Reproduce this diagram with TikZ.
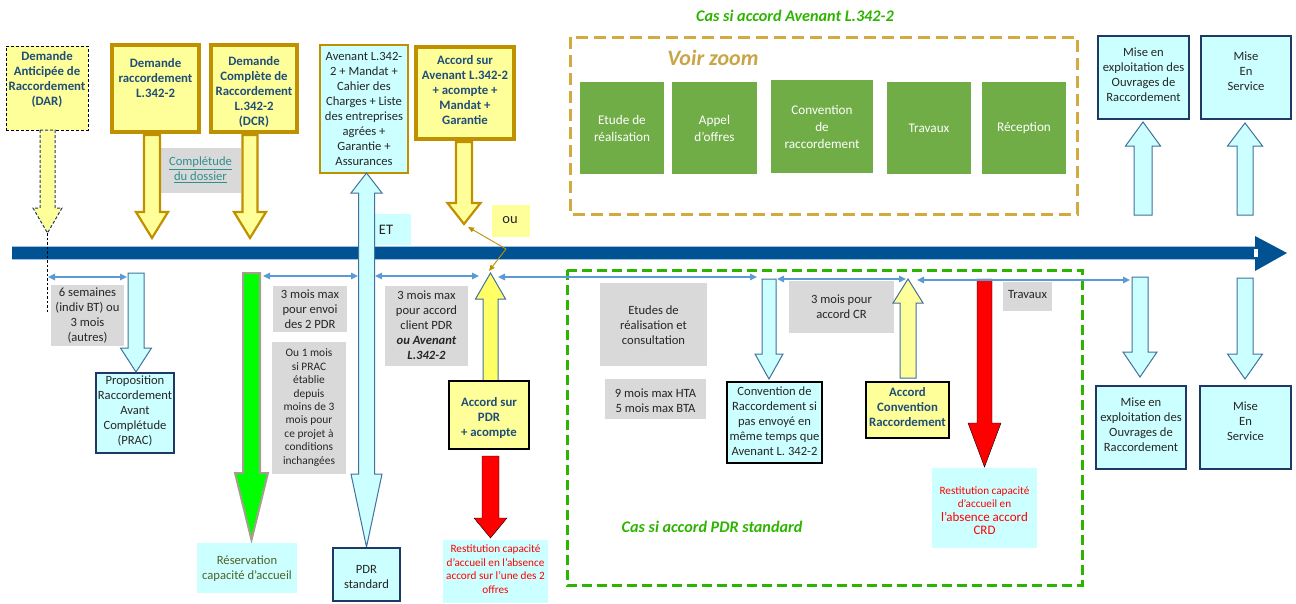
\documentclass[tikz,border=0pt]{standalone}
\usepackage{fontspec}
\setmainfont{Carlito}
\usetikzlibrary{arrows.meta}
\definecolor{tlblue}{HTML}{005293}
\definecolor{tledge}{HTML}{9CC2E5}
\definecolor{boxyellow}{HTML}{FFFF99}
\definecolor{brightyellow}{HTML}{FFFF66}
\definecolor{gold}{HTML}{BF9000}
\definecolor{cyanfill}{HTML}{CCFFFF}
\definecolor{steel}{HTML}{41719C}
\definecolor{navy}{HTML}{1F3864}
\definecolor{grayfill}{HTML}{D9D9D9}
\definecolor{textblue}{HTML}{1F4E79}
\definecolor{greenbox}{HTML}{70AD47}
\definecolor{dgreen}{HTML}{2DB400}
\definecolor{dgold}{HTML}{D1AB3E}
\definecolor{zoomgold}{HTML}{C8A548}
\definecolor{teal}{HTML}{2F8F8F}
\definecolor{lblue}{HTML}{5B9BD5}
\definecolor{greenarrow}{HTML}{00FF00}
\definecolor{garrowedge}{HTML}{A59F8F}
\definecolor{resgreen}{HTML}{4F6228}
\definecolor{graytext}{HTML}{262626}

\tikzset{
  bt/.style={font=\fontsize{12.8}{15}\selectfont\bfseries, text=textblue, align=center, inner sep=0pt},
  nt/.style={font=\fontsize{12.6}{15}\selectfont, text=graytext, align=center, inner sep=0pt},
  st/.style={font=\fontsize{11.4}{13.4}\selectfont, text=graytext, align=center, inner sep=0pt},
  rt/.style={font=\fontsize{11.2}{13.5}\selectfont, text=red, align=center, inner sep=0pt},
  wt/.style={font=\fontsize{13.2}{17}\selectfont, text=white, align=center, inner sep=0pt},
  ybox/.style={fill=boxyellow, draw=gold, line width=3.2pt},
  avbox/.style={fill=cyanfill, draw=gold, line width=2pt},
  navybox/.style={fill=cyanfill, draw=navy, line width=2.2pt},
  blackcyan/.style={fill=cyanfill, draw=black, line width=1.8pt},
  blackyellow/.style={fill=boxyellow, draw=black, line width=1.8pt},
  graybox/.style={fill=grayfill},
  cyanbg/.style={fill=cyanfill},
  greenrect/.style={fill=greenbox},
  darbox/.style={fill=boxyellow, draw=black, line width=1pt, dash pattern=on 3pt off 2pt},
  yarr/.style={fill=boxyellow, draw=gold, line width=2.2pt, line join=miter},
  darr/.style={fill=boxyellow, draw=navy, line width=1pt, dash pattern=on 3pt off 2pt},
  carr/.style={fill=cyanfill, draw=steel, line width=1pt},
  yuarr/.style={fill=brightyellow, draw=steel, line width=1pt},
  yparr/.style={fill=boxyellow, draw=steel, line width=1pt},
  grarr/.style={fill=greenarrow, draw=garrowedge, line width=2pt},
  rarr/.style={fill=red},
  harr/.style={draw=lblue, line width=1.3pt, {Triangle[length=7pt,width=6.5pt]}-{Triangle[length=7pt,width=6.5pt]}},
  ouarr/.style={draw=gold, line width=0.9pt, {Triangle[length=6pt,width=5pt]}-{Triangle[length=6pt,width=5pt]}},
}

% block arrow: style, cx, shaft half width, head half width, y tail, y head base, y tip
\newcommand\barr[7]{\draw[#1] ({#2-#3},#5) -- ({#2+#3},#5) -- ({#2+#3},#6) -- ({#2+#4},#6) -- (#2,#7) -- ({#2-#4},#6) -- ({#2-#3},#6) -- cycle;}

% box: name, style, x1, y1, x2, y2, text style, text centre y, text
\newcommand\bx[9]{%
  \pgfmathsetmacro\bxw{#5-#3}\pgfmathsetmacro\bxh{#6-#4}%
  \pgfmathsetmacro\bxcx{(#3+#5)/2}\pgfmathsetmacro\bxcy{(#4+#6)/2}%
  \node[#2, minimum width=\bxw pt, minimum height=\bxh pt, inner sep=0pt] (#1) at (\bxcx,\bxcy) {};
  \node[#7] (#1-t) at (\bxcx,#8) {#9};
}

\begin{document}
\begin{tikzpicture}[x=1pt,y=-1pt]
\useasboundingbox (0,0) rectangle (1296,603);

% ---- dashed frames and their titles
\draw[dgold, line width=3pt, dash pattern=on 12pt off 6pt] (570,37) rectangle (1077,214);
\draw[dgreen, line width=3pt, dash pattern=on 10pt off 5pt] (567,270) rectangle (1082,585);
\node[font=\fontsize{16.2}{18}\selectfont\bfseries\itshape, text=dgreen] (t-av) at (795,16) {Cas si accord Avenant L.342-2};
\node[font=\fontsize{22}{24}\selectfont\bfseries\itshape, text=zoomgold] (t-zoom) at (713,58) {Voir zoom};
\node[font=\fontsize{16.2}{18}\selectfont\bfseries\itshape, text=dgreen] (t-pdr) at (712,527) {Cas si accord PDR standard};

% ---- green step boxes
\bx{g1}{greenrect}{580}{82}{664}{174}{wt}{128.5}{Etude de\\réalisation}
\bx{g2}{greenrect}{672}{82}{757}{174}{wt}{128.5}{Appel\\d’offres}
\bx{g3}{greenrect}{771}{80}{873}{173}{wt}{127}{Convention\\de\\raccordement}
\bx{g4}{greenrect}{887}{82}{971}{174}{wt}{128}{Travaux}
\bx{g5}{greenrect}{982}{82}{1066}{174}{wt}{128}{Réception}

% ---- timeline
\fill[tlblue] (12,246) -- (1255,246) -- (1255,236) -- (1287,253) -- (1255,271) -- (1255,259) -- (12,259) -- cycle;
\draw[tledge, line width=0.6pt] (12,246) -- (1255,246);
\draw[tledge, line width=0.6pt] (12,259) -- (1255,259);
\fill[white] (1254,249) rectangle (1258,257);

% ---- top left boxes
\bx{dar}{darbox}{6}{46}{88}{130}{bt}{79.5}{Demande\\Anticipée de\\Raccordement\\(DAR)}
\bx{dr}{ybox}{112}{45}{199}{132}{bt}{78}{Demande\\raccordement\\L.342-2}
\bx{dcr}{ybox}{211}{45}{297}{132}{bt}{92}{Demande\\Complète de\\Raccordement\\L.342-2\\(DCR)}
\bx{compl}{graybox}{160}{148}{241}{193}{nt}{170}{\color{teal}\underline{Complétude}\\\color{teal}\underline{du dossier}}
\bx{aven}{avbox}{320}{45}{408}{173}{nt}{109}{Avenant L.342-\\2 + Mandat +\\Cahier des\\Charges + Liste\\des entreprises\\agrées +\\Garantie +\\Assurances}
\bx{accav}{ybox}{416}{47}{514}{139}{bt}{90}{Accord sur\\Avenant L.342-2\\+ acompte +\\Mandat +\\Garantie}
\node[cyanbg, minimum width=38pt, minimum height=31pt, inner sep=0pt] (et) at (392,229.5) {};
\node[font=\fontsize{14.5}{16}\selectfont, text=graytext, inner sep=0pt] (et-t) at (386,230) {ET};
\node[fill=boxyellow, minimum width=38pt, minimum height=32pt, inner sep=0pt] (ou) at (511,221) {};
\node[font=\fontsize{14.5}{16}\selectfont, text=graytext, inner sep=0pt] (ou-t) at (510,220) {ou};

% ---- arrows from the top boxes
\barr{darr}{47.5}{7.5}{14.5}{130}{208}{233}
\draw[black, line width=0.9pt, dash pattern=on 2.5pt off 2pt] (47.5,233) -- (47.5,312);
\barr{yarr}{152}{8}{16}{135}{212}{238}
\barr{yarr}{250}{7.5}{16}{135}{212}{238}
\barr{yarr}{464}{8}{16.5}{142}{203}{224}

% ---- top right boxes and arrows
\bx{meo1}{navybox}{1098}{36}{1189}{119}{nt}{74.5}{Mise en\\exploitation des\\Ouvrages de\\Raccordement}
\bx{mes1}{navybox}{1201}{36}{1291}{119}{nt}{71.5}{Mise\\En\\Service}
\barr{carr}{1143}{9}{17.5}{215}{146}{122}
\barr{carr}{1245}{8}{17.5}{215}{146}{123}

% ---- lower left
\bx{sixs}{graybox}{51}{285}{124}{346}{nt}{315.5}{6 semaines\\(indiv BT) ou\\3 mois\\(autres)}
\bx{prac}{navybox}{96}{373}{174}{453}{nt}{411}{Proposition\\Raccordement\\Avant\\Complétude\\(PRAC)}
\barr{carr}{136}{8}{15.5}{273}{348}{372}
\barr{grarr}{251.5}{8.5}{16.5}{273}{473}{540}
\bx{resa}{cyanbg}{197}{543}{297}{593}{nt}{568.5}{\color{resgreen}Réservation\\\color{resgreen}capacité d’accueil}
\bx{envoi}{graybox}{273}{286}{347}{332}{nt}{309}{3 mois max\\pour envoi\\des 2 PDR}
\bx{prac1}{graybox}{272}{342}{346}{474}{st}{407.5}{Ou 1 mois\\si PRAC\\établie\\depuis\\moins de 3\\mois pour\\ce projet à\\conditions\\inchangées}

% ---- PDR standard and double arrow
\draw[carr] (366.5,173) -- (382,193) -- (374.5,193) -- (374.5,474) -- (382,474) -- (366.5,547) -- (351,474) -- (358.5,474) -- (358.5,193) -- (351,193) -- cycle;
\bx{pdrstd}{navybox}{333}{548}{400}{601}{nt}{577}{PDR\\standard}
\bx{client}{graybox}{385}{286}{468}{366}{nt}{325.5}{3 mois max\\pour accord\\client PDR\\\textbf{\textit{ou Avenant}}\\\textbf{\textit{L.342-2}}}
\barr{yuarr}{490.5}{7.5}{15}{381}{299}{273}
\bx{accpdr}{blackyellow}{449}{381}{529}{449}{bt}{418.5}{Accord sur\\PDR\\+ acompte}
\barr{rarr}{490.5}{8.5}{16.5}{456}{518}{538}
\bx{rest1}{cyanbg}{443}{540}{548}{603}{rt}{569}{Restitution capacité\\d’accueil en l’absence\\accord sur  l’une des 2\\offres}

% ---- inside the PDR standard frame
\bx{etud}{graybox}{600}{283}{707}{366}{nt}{325}{Etudes de\\réalisation et\\consultation}
\bx{neuf}{graybox}{605}{379}{706}{419}{nt}{401}{9 mois max HTA\\5 mois max BTA}
\barr{carr}{769}{7}{14}{279}{354}{379}
\bx{conv}{blackcyan}{727}{382}{822}{463}{nt}{421.5}{Convention de\\Raccordement si\\pas envoyé en\\même temps que\\Avenant L. 342-2}
\bx{trois}{graybox}{789}{281}{894}{333}{nt}{306.5}{3 mois pour\\accord CR}
\barr{yparr}{908}{8}{15}{378}{303}{279}
\bx{accconv}{blackyellow}{866}{382}{949}{438}{bt}{407}{Accord\\Convention\\Raccordement}
\barr{rarr}{984.5}{7.5}{16.5}{279}{423}{467}
\bx{rest2}{cyanbg}{932}{468}{1037}{548}{rt}{510.5}{Restitution capacité\\d’accueil en\\\fontsize{13}{15.5}\selectfont l’absence accord\\\fontsize{13}{15.5}\selectfont CRD}
\bx{trav}{graybox}{1003}{282}{1052}{311}{nt}{294}{Travaux}

% ---- lower right
\barr{carr}{1140}{8}{17}{277}{352}{377}
\barr{carr}{1245}{8}{17.5}{278}{354}{379}
\bx{meo2}{navybox}{1096}{386}{1186}{469}{nt}{425}{Mise en\\exploitation des\\Ouvrages de\\Raccordement}
\bx{mes2}{navybox}{1200}{386}{1291}{469}{nt}{421.5}{Mise\\En\\Service}

% ---- duration arrows
\coordinate (h1a) at (48,277);   \coordinate (h1b) at (127,277);
\coordinate (h2a) at (263,276);  \coordinate (h2b) at (358,276);
\coordinate (h3a) at (375,276);  \coordinate (h3b) at (479,276);
\coordinate (h4a) at (498,277);  \coordinate (h4b) at (757,277);
\coordinate (h5a) at (777,279);  \coordinate (h5b) at (906,279);
\coordinate (h6a) at (917,280);  \coordinate (h6b) at (1130,280);
\draw[harr] (h1a) -- (h1b);
\draw[harr] (h2a) -- (h2b);
\draw[harr] (h3a) -- (h3b);
\draw[harr] (h4a) -- (h4b);
\draw[harr] (h5a) -- (h5b);
\draw[harr] (h6a) -- (h6b);

% ---- "ou" connector
\coordinate (ou-a) at (468,227);
\coordinate (ou-j) at (506,249);
\coordinate (ou-b) at (489,271);
\draw[ouarr] (ou-a) -- (ou-j) -- (ou-b);
\end{tikzpicture}
\end{document}
